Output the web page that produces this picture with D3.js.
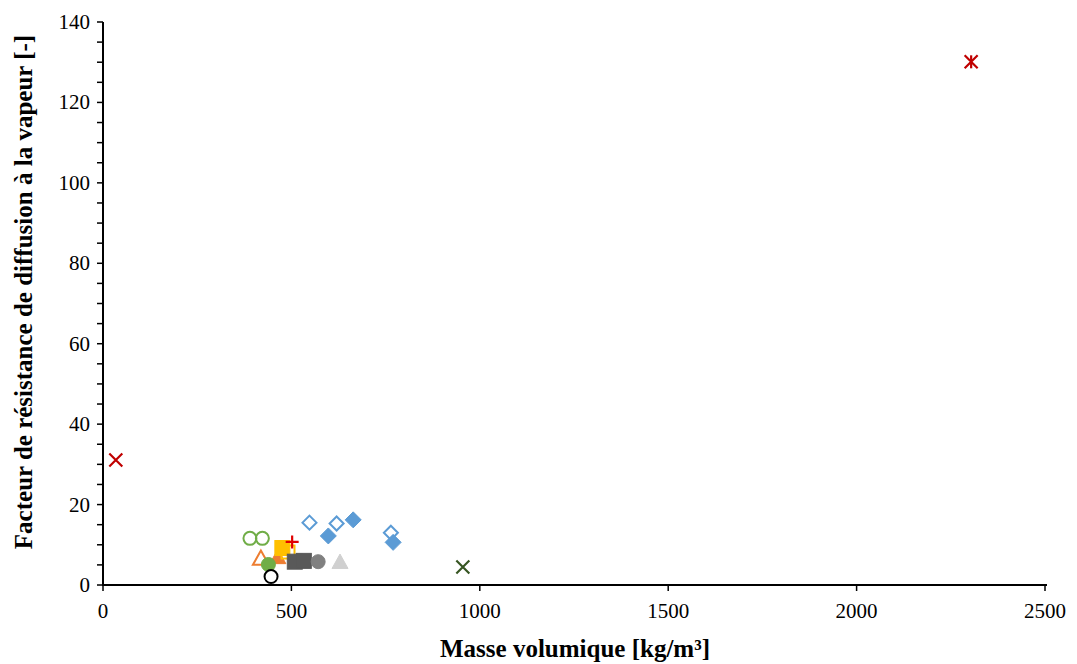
<!DOCTYPE html>
<html>
<head>
<meta charset="utf-8">
<script src="https://cdn.jsdelivr.net/npm/d3@7"></script>
<style>
  body { margin: 0; background: #fff; }
</style>
</head>
<body>
<svg id="chart" width="1077" height="664"></svg>
<script>
// data: [masse volumique, facteur de resistance]
var croixRouge = [[34, 31.1]];
var etoileRouge = [[2304, 130.1]];
var croixVerte = [[955, 4.5]];
var cerclesVertsVides = [[390, 11.6], [423, 11.6]];
var triangleOrangeVide = [[419, 6.6]];
var triangleOrangePlein = [[464, 6.9]];
var carreJauneVide = [[491, 8.2]];
var carreJaunePlein = [[476, 9.2]];
var plusRouge = [[502, 10.7]];
var carresGrisFonce = [[509, 5.8], [533, 6.0]];
var cercleGris = [[571, 5.8]];
var triangleGrisClair = [[629, 5.7]];
var losangesBleusVides = [[548, 15.5], [620, 15.3], [764, 13.0]];
var losangesBleusPleins = [[664, 16.2], [598, 12.2], [770, 10.6]];
var cercleVertPlein = [[439, 5.1]];
var cercleNoirVide = [[446, 2.1]];

var xTicks = [0, 500, 1000, 1500, 2000, 2500];
var yTicks = [0, 20, 40, 60, 80, 100, 120, 140];

var series = [
  { data: croixRouge, shape: 'x', color: '#C00000' },
  { data: etoileRouge, shape: 'star', color: '#C00000' },
  { data: croixVerte, shape: 'x', color: '#375623' },
  { data: losangesBleusVides, shape: 'diamond', color: '#5B9BD5', open: true },
  { data: losangesBleusPleins, shape: 'diamond', color: '#5B9BD5' },
  { data: cerclesVertsVides, shape: 'circle', color: '#70AD47', open: true },
  { data: triangleOrangeVide, shape: 'triangle', color: '#ED7D31', open: true },
  { data: triangleOrangePlein, shape: 'triangle', color: '#ED7D31' },
  { data: carreJauneVide, shape: 'square', color: '#FFC000', open: true },
  { data: carreJaunePlein, shape: 'square', color: '#FFC000' },
  { data: plusRouge, shape: 'plus', color: '#E00000' },
  { data: carresGrisFonce, shape: 'square', color: '#595959' },
  { data: cercleGris, shape: 'circle', color: '#808080' },
  { data: triangleGrisClair, shape: 'triangle', color: '#D0D0D0' },
  { data: cercleVertPlein, shape: 'circle', color: '#70AD47' },
  { data: cercleNoirVide, shape: 'circle', color: '#000000', open: true }
];

var font = "'Liberation Serif', 'Times New Roman', 'DejaVu Serif', serif";
var svg = d3.select('#chart').attr('font-family', font);
var x = d3.scaleLinear().domain([0, 2500]).range([103, 1045]);
var y = d3.scaleLinear().domain([0, 140]).range([585, 22]);

// y axis with minor ticks every 5
var yMinor = d3.range(0, 141, 5);
svg.append('g').selectAll('line').data(yMinor).enter().append('line')
  .attr('x1', 97).attr('x2', 103)
  .attr('y1', function(d) { return y(d); }).attr('y2', function(d) { return y(d); })
  .attr('stroke', '#000').attr('stroke-width', 1.5);
svg.append('line').attr('x1', 103).attr('x2', 103).attr('y1', y(140)).attr('y2', y(0))
  .attr('stroke', '#000').attr('stroke-width', 2);
svg.append('g').selectAll('text').data(yTicks).enter().append('text')
  .attr('x', 90).attr('y', function(d) { return y(d) + 7; })
  .attr('text-anchor', 'end').attr('font-size', 21).attr('font-family', font)
  .text(function(d) { return d; });

// x axis
svg.append('line').attr('x1', x(0) - 1).attr('x2', 1047).attr('y1', y(0)).attr('y2', y(0))
  .attr('stroke', '#000').attr('stroke-width', 2);
svg.append('g').selectAll('line').data(xTicks).enter().append('line')
  .attr('x1', function(d) { return x(d); }).attr('x2', function(d) { return x(d); })
  .attr('y1', y(0)).attr('y2', y(0) + 6)
  .attr('stroke', '#000').attr('stroke-width', 1.5);
svg.append('g').selectAll('text').data(xTicks).enter().append('text')
  .attr('x', function(d) { return x(d); }).attr('y', 618)
  .attr('text-anchor', 'middle').attr('font-size', 21).attr('font-family', font)
  .text(function(d) { return d; });

// titles
svg.append('text').attr('x', 575).attr('y', 657).attr('text-anchor', 'middle')
  .attr('font-size', 25).attr('font-weight', 'bold').attr('font-family', font)
  .text('Masse volumique [kg/m³]');
svg.append('text').attr('transform', 'translate(32,292) rotate(-90)').attr('text-anchor', 'middle')
  .attr('font-size', 25).attr('font-weight', 'bold').attr('font-family', font)
  .text('Facteur de résistance de diffusion à la vapeur [-]');

// markers
var drawMarker = function(g, s, cx, cy) {
  var fill = s.open ? 'none' : s.color;
  var sw = s.open ? 2 : 1;
  if (s.shape === 'circle') {
    g.append('circle').attr('cx', cx).attr('cy', cy).attr('r', s.open ? 6.5 : 7)
      .attr('fill', s.open ? (s.color === '#000000' ? '#fff' : 'none') : fill)
      .attr('stroke', s.color).attr('stroke-width', sw);
  } else if (s.shape === 'square') {
    var h = s.open ? 6.5 : 7.5;
    g.append('rect').attr('x', cx - h).attr('y', cy - h).attr('width', 2 * h).attr('height', 2 * h)
      .attr('fill', fill).attr('stroke', s.color).attr('stroke-width', sw);
  } else if (s.shape === 'diamond') {
    var d = s.open ? 7 : 8;
    g.append('path').attr('d', 'M' + cx + ',' + (cy - d) + 'L' + (cx + d) + ',' + cy + 'L' + cx + ',' + (cy + d) + 'L' + (cx - d) + ',' + cy + 'Z')
      .attr('fill', fill).attr('stroke', s.color).attr('stroke-width', sw);
  } else if (s.shape === 'triangle') {
    var t = 8;
    g.append('path').attr('d', 'M' + cx + ',' + (cy - t) + 'L' + (cx + t) + ',' + (cy + t * 0.8) + 'L' + (cx - t) + ',' + (cy + t * 0.8) + 'Z')
      .attr('fill', fill).attr('stroke', s.color).attr('stroke-width', sw);
  } else if (s.shape === 'x' || s.shape === 'star') {
    var a = 6.5;
    g.append('path').attr('d', 'M' + (cx - a) + ',' + (cy - a) + 'L' + (cx + a) + ',' + (cy + a) + 'M' + (cx + a) + ',' + (cy - a) + 'L' + (cx - a) + ',' + (cy + a))
      .attr('stroke', s.color).attr('stroke-width', 2.2).attr('fill', 'none');
    if (s.shape === 'star') {
      g.append('path').attr('d', 'M' + cx + ',' + (cy - a) + 'L' + cx + ',' + (cy + a))
        .attr('stroke', s.color).attr('stroke-width', 2.2);
    }
  } else if (s.shape === 'plus') {
    var p = 6.5;
    g.append('path').attr('d', 'M' + (cx - p) + ',' + cy + 'L' + (cx + p) + ',' + cy + 'M' + cx + ',' + (cy - p) + 'L' + cx + ',' + (cy + p))
      .attr('stroke', s.color).attr('stroke-width', 2.2);
  }
};

var marks = svg.append('g');
series.forEach(function(s) {
  s.data.forEach(function(pt) {
    drawMarker(marks, s, x(pt[0]), y(pt[1]));
  });
});
</script>
</body>
</html>
